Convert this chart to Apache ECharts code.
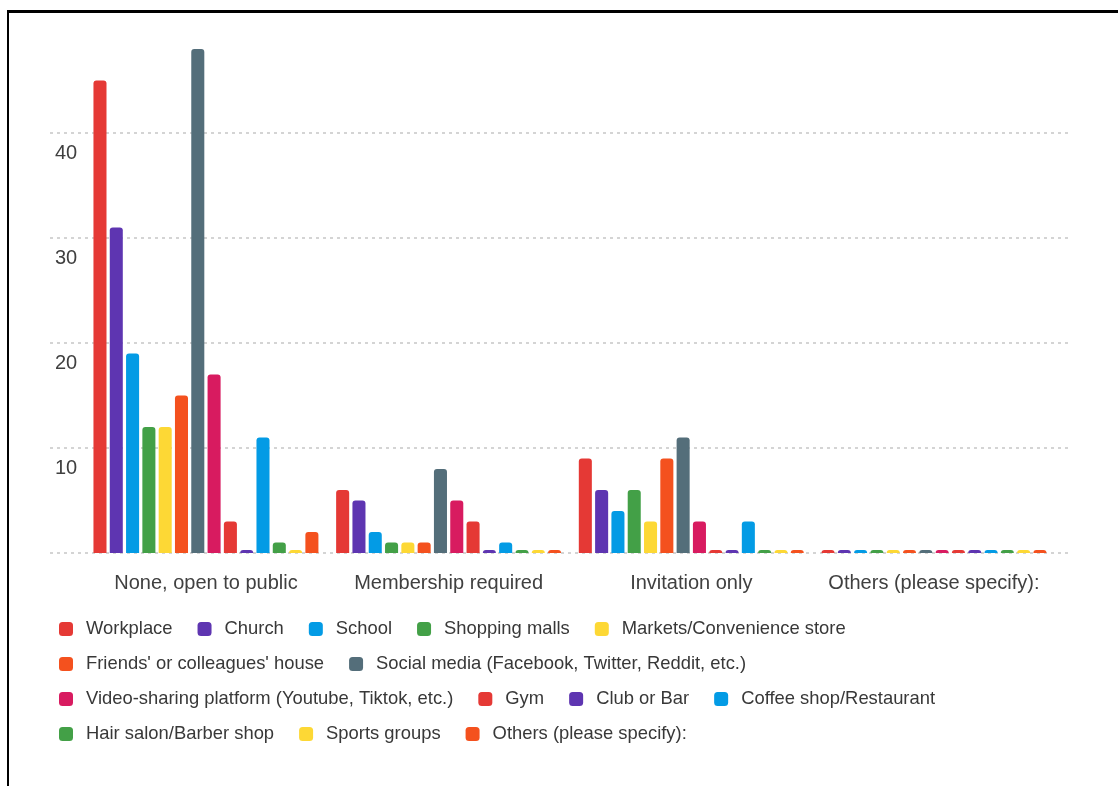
<!DOCTYPE html>
<html>
<head>
<meta charset="utf-8">
<script src="https://cdn.jsdelivr.net/npm/echarts@6/dist/echarts.min.js"></script>
<style>
  html, body { margin: 0; padding: 0; background: #fff; }
  #frame { position: absolute; left: 7px; top: 10px; width: 1111px; height: 776px;
           border-left: 2px solid #000; border-top: 3px solid #000; box-sizing: border-box; }
  #chart { position: absolute; left: 0; top: 0; width: 1118px; height: 786px; }
</style>
</head>
<body>
<div id="frame"></div>
<div id="chart"></div>
<script>
// ---- data ----
const categories = ['None, open to public', 'Membership required', 'Invitation only', 'Others (please specify):'];
const seriesNames = [
  'Workplace', 'Church', 'School', 'Shopping malls', 'Markets/Convenience store',
  "Friends' or colleagues' house", 'Social media (Facebook, Twitter, Reddit, etc.)',
  'Video-sharing platform (Youtube, Tiktok, etc.)', 'Gym', 'Club or Bar',
  'Coffee shop/Restaurant', 'Hair salon/Barber shop', 'Sports groups', 'Others (please specify):'
];
const workplace   = [45, 6, 9, 0];
const church      = [31, 5, 6, 0];
const school      = [19, 2, 4, 0];
const shopping    = [12, 1, 6, 0];
const markets     = [12, 1, 3, 0];
const friends     = [15, 1, 9, 0];
const socialMedia = [48, 8, 11, 0];
const videoShare  = [17, 5, 3, 0];
const gym         = [3, 3, 0, 0];
const clubBar     = [0, 0, 0, 0];
const coffeeShop  = [11, 1, 3, 0];
const hairSalon   = [1, 0, 0, 0];
const sportsGroup = [0, 0, 0, 0];
const othersVals  = [2, 0, 0, 0];
const seriesValues = [workplace, church, school, shopping, markets, friends, socialMedia,
  videoShare, gym, clubBar, coffeeShop, hairSalon, sportsGroup, othersVals];
const colors = ['#e53935', '#5e35b1', '#039be5', '#43a047', '#fdd835', '#f4511e', '#546e7a',
  '#d81b60', '#e53935', '#5e35b1', '#039be5', '#43a047', '#fdd835', '#f4511e'];
const yMin = 0, yMax = 50, yInterval = 10;

// ---- chart ----
const chart = echarts.init(document.getElementById('chart'), null, { renderer: 'canvas' });
const font = "'Liberation Sans', Arial, sans-serif";
const TOP = 28, BOTTOM = 233;

const option = {
  animation: false,
  color: colors,
  textStyle: { fontFamily: font },
  grid: [
    { left: 50, right: 48, top: TOP, bottom: BOTTOM },
    { left: 84.6, right: 62.7, top: TOP, bottom: BOTTOM }
  ],
  xAxis: [
    { gridIndex: 0, type: 'value', show: false },
    {
      gridIndex: 1, type: 'category', data: categories,
      axisLine: { show: false }, axisTick: { show: false },
      axisLabel: { fontSize: 20, color: '#404040', margin: 20, fontFamily: font, interval: 0 }
    }
  ],
  yAxis: [
    {
      gridIndex: 0, type: 'value', min: yMin, max: yMax, interval: yInterval,
      axisLine: { show: false }, axisTick: { show: false },
      splitLine: { show: true, showMaxLine: false,
        lineStyle: { color: '#d4d4d4', width: 2, type: [3, 4] } },
      axisLabel: {
        inside: true, margin: 5, fontSize: 20, color: '#404040', fontFamily: font,
        showMinLabel: false, showMaxLabel: false,
        align: 'left', verticalAlign: 'top', lineHeight: 20, padding: [10, 0, 0, 0]
      }
    },
    { gridIndex: 1, type: 'value', min: yMin, max: yMax, interval: yInterval, show: false,
      splitLine: { show: false } }
  ],
  legend: {
    data: seriesNames,
    left: 54, top: 615, right: 40,
    itemWidth: 14, itemHeight: 14, itemGap: 17,
    icon: 'roundRect',
    textStyle: { fontSize: 18.4, color: '#383838', fontFamily: font, lineHeight: 18,
      padding: [0, 8, 0, 8] }
  },
  series: seriesNames.map((name, i) => ({
    name: name,
    type: 'bar',
    xAxisIndex: 1, yAxisIndex: 1,
    data: seriesValues[i],
    barGap: '25%',
    barCategoryGap: '7.3%',
    barMinHeight: 3,
    itemStyle: { color: colors[i], borderRadius: [3, 3, 0, 0] }
  }))
};
chart.setOption(option);
</script>
</body>
</html>
